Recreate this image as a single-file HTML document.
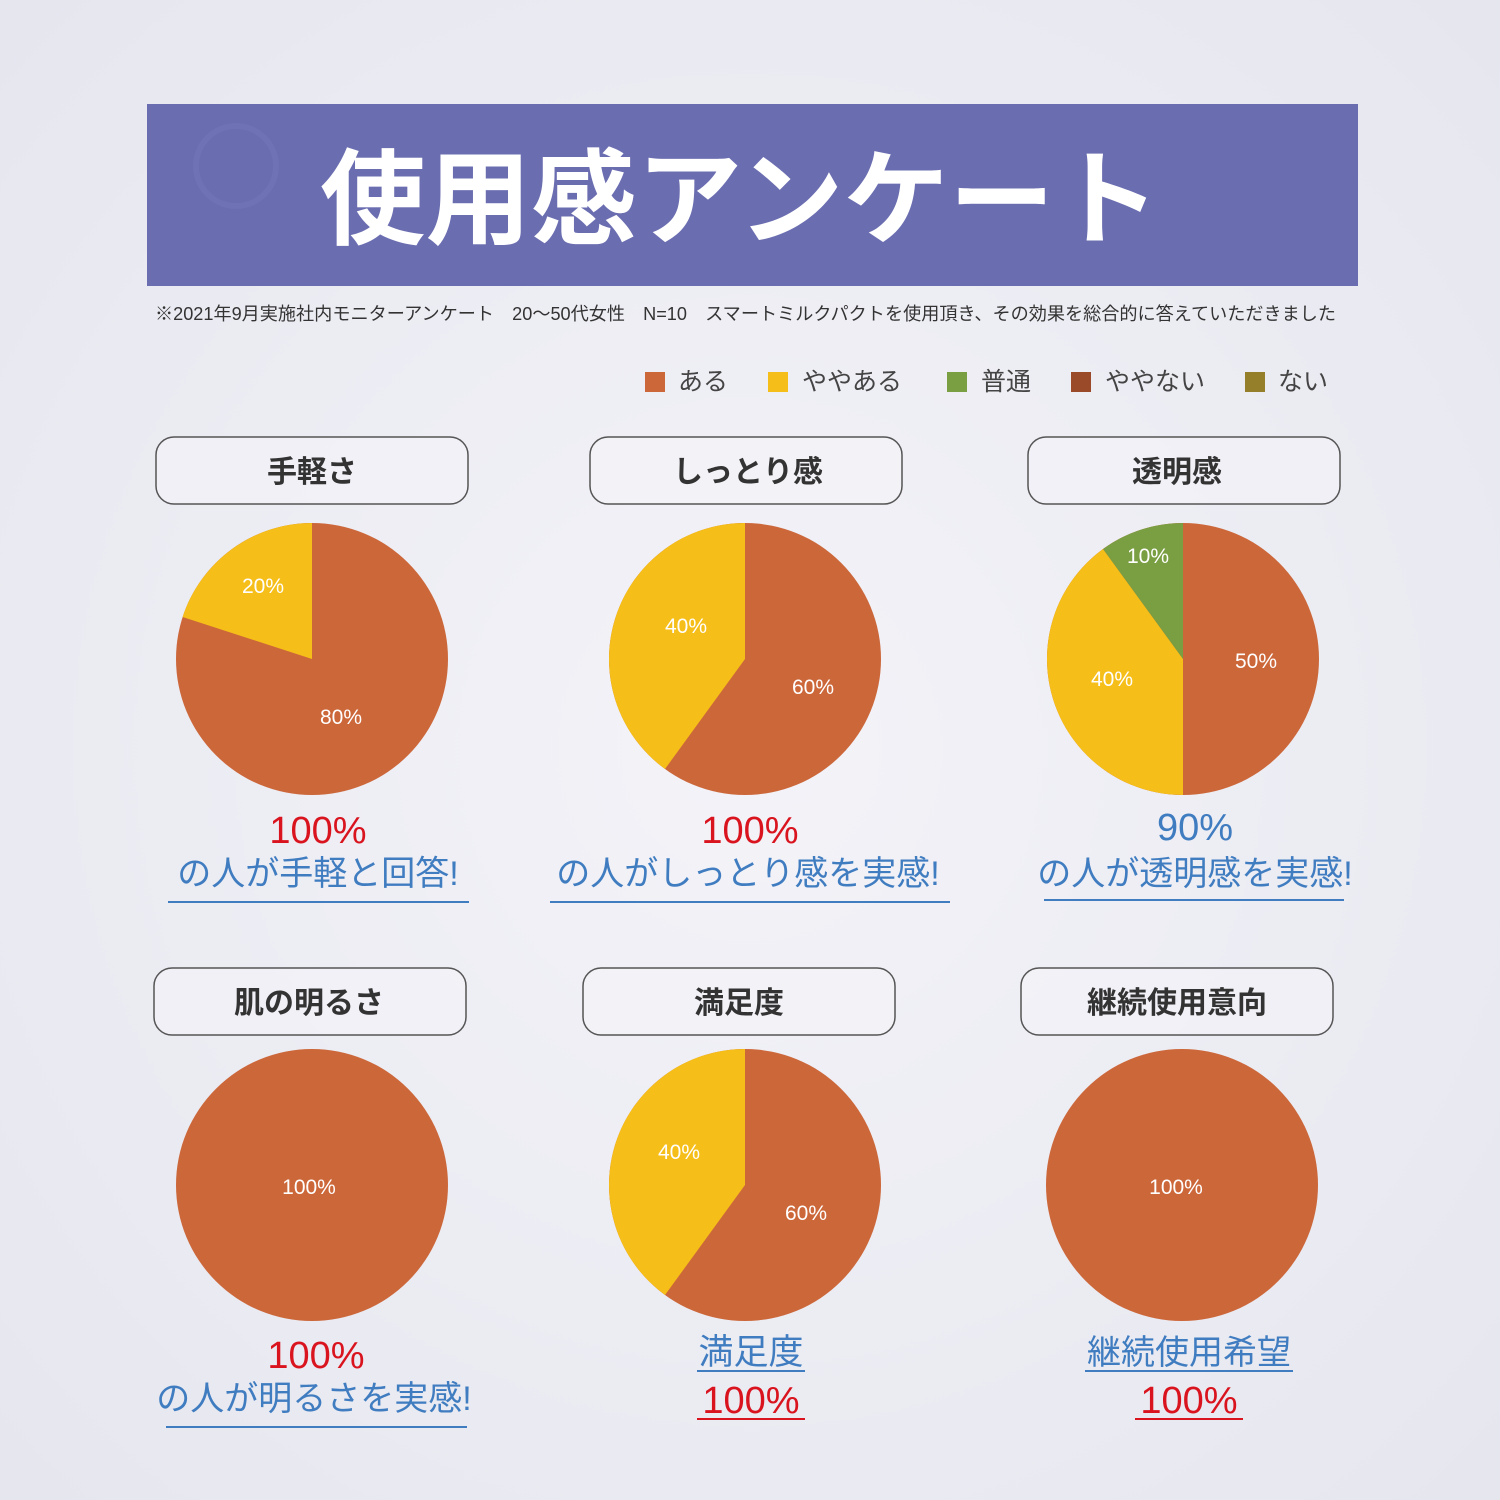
<!DOCTYPE html>
<html><head><meta charset="utf-8"><style>
html,body{margin:0;padding:0;}
body{width:1500px;height:1500px;background:#eeeef4;overflow:hidden;}
svg{display:block;}
text{font-family:"Liberation Sans","Noto Sans CJK JP",sans-serif;}
</style></head><body>
<svg width="1500" height="1500" viewBox="0 0 1500 1500" xmlns="http://www.w3.org/2000/svg">
<defs>
<radialGradient id="bg" cx="0.5" cy="0.5" r="0.7">
<stop offset="0" stop-color="#f3f3f8"/><stop offset="1" stop-color="#e6e6ef"/>
</radialGradient>
</defs>
<rect width="1500" height="1500" fill="url(#bg)"/>
<rect x="147" y="104" width="1211" height="182" fill="#6a6db0"/>
<circle cx="236" cy="166" r="40" fill="none" stroke="#6f72b4" stroke-width="6"/>
<text x="740" y="236" font-size="104" font-weight="bold" fill="#fff" text-anchor="middle" textLength="840" lengthAdjust="spacingAndGlyphs">使用感アンケート</text>
<text x="155" y="320" font-size="18" fill="#333" textLength="1181" lengthAdjust="spacingAndGlyphs">※2021年9月実施社内モニターアンケート　20～50代女性　N=10　スマートミルクパクトを使用頂き、その効果を総合的に答えていただきました</text>

<g font-size="25" fill="#444">
<rect x="645" y="372" width="20" height="20" fill="#cc673a"/><text x="678" y="390">ある</text>
<rect x="768" y="372" width="20" height="20" fill="#f6be18"/><text x="802" y="390">ややある</text>
<rect x="947" y="372" width="20" height="20" fill="#7a9e42"/><text x="981" y="390">普通</text>
<rect x="1071" y="372" width="20" height="20" fill="#9a4a28"/><text x="1105" y="390">ややない</text>
<rect x="1245" y="372" width="20" height="20" fill="#957f2b"/><text x="1278" y="390">ない</text>
</g>

<g fill="#f4f4f8" fill-opacity="0.6" stroke="#555" stroke-width="1.5">
<rect x="156" y="437" width="312" height="67" rx="18"/>
<rect x="590" y="437" width="312" height="67" rx="18"/>
<rect x="1028" y="437" width="312" height="67" rx="18"/>
<rect x="154" y="968" width="312" height="67" rx="18"/>
<rect x="583" y="968" width="312" height="67" rx="18"/>
<rect x="1021" y="968" width="312" height="67" rx="18"/>
</g>
<g font-size="30" font-weight="bold" fill="#333" text-anchor="middle">
<text x="312" y="482">手軽さ</text>
<text x="748" y="482">しっとり感</text>
<text x="1177" y="482">透明感</text>
<text x="309" y="1013">肌の明るさ</text>
<text x="739" y="1013">満足度</text>
<text x="1177" y="1013">継続使用意向</text>
</g>

<circle cx="312" cy="659" r="136" fill="#cc673a"/>
<path d="M312 659 L182.6 617 A136 136 0 0 1 312 523 Z" fill="#f6be18"/>
<circle cx="745" cy="659" r="136" fill="#cc673a"/>
<path d="M745 659 L665 769 A136 136 0 0 1 745 523 Z" fill="#f6be18"/>
<circle cx="1183" cy="659" r="136" fill="#cc673a"/>
<path d="M1183 659 L1183 795 A136 136 0 0 1 1103 549 Z" fill="#f6be18"/>
<path d="M1183 659 L1103 549 A136 136 0 0 1 1183 523 Z" fill="#7a9e42"/>
<circle cx="312" cy="1185" r="136" fill="#cc673a"/>
<circle cx="745" cy="1185" r="136" fill="#cc673a"/>
<path d="M745 1185 L665 1295 A136 136 0 0 1 745 1049 Z" fill="#f6be18"/>
<circle cx="1182" cy="1185" r="136" fill="#cc673a"/>

<g font-size="21" fill="#fff" text-anchor="middle">
<text x="263" y="593">20%</text><text x="341" y="724">80%</text>
<text x="686" y="633">40%</text><text x="813" y="694">60%</text>
<text x="1148" y="563">10%</text><text x="1112" y="686">40%</text><text x="1256" y="668">50%</text>
<text x="309" y="1194">100%</text>
<text x="679" y="1159">40%</text><text x="806" y="1220">60%</text>
<text x="1176" y="1194">100%</text>
</g>

<g font-size="38" text-anchor="middle">
<text x="318" y="843" fill="#d9141e">100%</text>
<text x="318" y="885" fill="#3f7cc0" font-size="34">の人が手軽と回答!</text>
<text x="750" y="843" fill="#d9141e">100%</text>
<text x="748" y="885" fill="#3f7cc0" font-size="34">の人がしっとり感を実感!</text>
<text x="1195" y="840" fill="#3f7cc0">90%</text>
<text x="1195" y="885" fill="#3f7cc0" font-size="34">の人が透明感を実感!</text>
<text x="316" y="1368" fill="#d9141e">100%</text>
<text x="314" y="1410" fill="#3f7cc0" font-size="34">の人が明るさを実感!</text>
<text x="751" y="1364" fill="#3f7cc0" font-size="35">満足度</text>
<text x="751" y="1413" fill="#d9141e">100%</text>
<text x="1189" y="1364" fill="#3f7cc0" font-size="34">継続使用希望</text>
<text x="1189" y="1413" fill="#d9141e">100%</text>
</g>
<g stroke-width="2">
<line x1="168" y1="902" x2="469" y2="902" stroke="#3f7cc0"/>
<line x1="550" y1="902" x2="950" y2="902" stroke="#3f7cc0"/>
<line x1="1044" y1="900" x2="1344" y2="900" stroke="#3f7cc0"/>
<line x1="166" y1="1427" x2="467" y2="1427" stroke="#3f7cc0"/>
<line x1="697" y1="1371" x2="805" y2="1371" stroke="#3f7cc0"/>
<line x1="697" y1="1419" x2="805" y2="1419" stroke="#d9141e"/>
<line x1="1085" y1="1371" x2="1293" y2="1371" stroke="#3f7cc0"/>
<line x1="1135" y1="1419" x2="1243" y2="1419" stroke="#d9141e"/>
</g>
</svg>
</body></html>
